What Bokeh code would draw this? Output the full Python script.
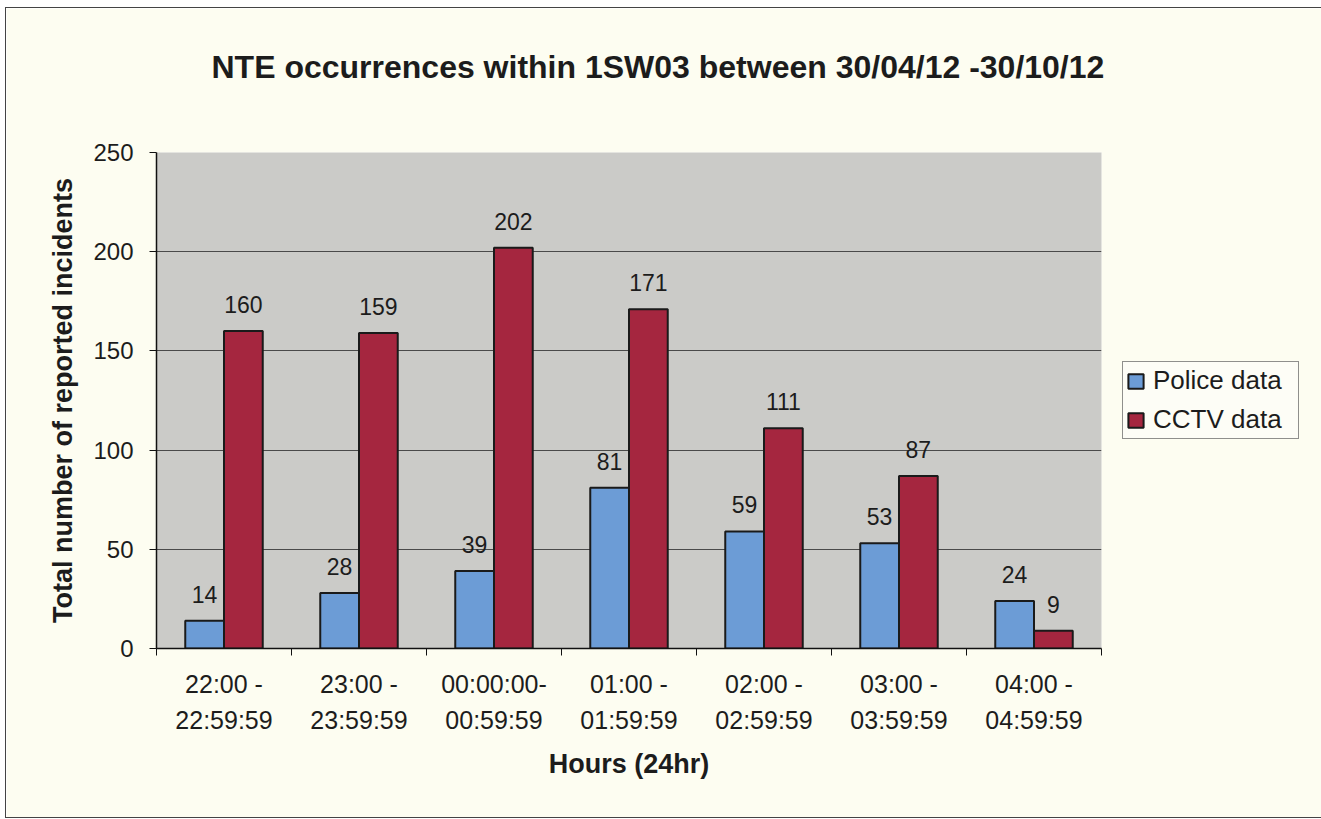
from bokeh.plotting import figure
from bokeh.models import (ColumnDataSource, Range1d, FixedTicker, LabelSet,
                          Legend, LegendItem)
from bokeh.core.properties import value
from bokeh.embed import file_html
from bokeh.resources import INLINE

# ---- data ----
hours = ["22:00 -\n22:59:59", "23:00 -\n23:59:59", "00:00:00-\n00:59:59",
         "01:00 -\n01:59:59", "02:00 -\n02:59:59", "03:00 -\n03:59:59",
         "04:00 -\n04:59:59"]
police = [14, 28, 39, 81, 59, 53, 24]
cctv = [160, 159, 202, 171, 111, 87, 9]
series_names = ["Police data", "CCTV data"]
y_ticks = [0, 50, 100, 150, 200, 250]
title_text = "NTE occurrences within 1SW03 between 30/04/12 -30/10/12"

FONT = "Liberation Sans"
BLUE = "#6C9CD6"
RED = "#A5263F"
BAR_W = 0.287

n = len(hours)
centers = [i + 0.5 for i in range(n)]
bounds = [float(i) for i in range(n + 1)]

src = ColumnDataSource(dict(
    xp=[c - BAR_W / 2 for c in centers],
    xc=[c + BAR_W / 2 for c in centers],
    police=police, cctv=cctv,
    police_lbl=[str(v) for v in police],
    cctv_lbl=[str(v) for v in cctv],
))

p = figure(frame_width=945, frame_height=496, output_backend="svg",
           toolbar_location=None,
           x_range=Range1d(0, n), y_range=Range1d(0, 250),
           min_border_left=150, min_border_right=214,
           min_border_top=144, min_border_bottom=169)
p.styles = {"border": "1px solid #444", "margin": "7px 0 0 5px"}

p.border_fill_color = "#FDFDF1"
p.background_fill_color = "#CBCBC8"
p.outline_line_color = None

# title (a blank second line lifts it well above the plot area)
p.title.text = title_text + "\n\u00a0"
p.title.text_font = FONT
p.title.text_font_size = "32px"
p.title.text_font_style = "bold"
p.title.text_color = "#1c1c1c"
p.title.align = "left"
p.title.offset = 55
p.title.standoff = 64

# bars
r_p = p.vbar(x="xp", top="police", width=BAR_W, source=src, fill_color=BLUE,
             line_color="#1a1a1a", line_width=2)
r_c = p.vbar(x="xc", top="cctv", width=BAR_W, source=src, fill_color=RED,
             line_color="#1a1a1a", line_width=2)

for xcol, ycol, tcol in [("xp", "police", "police_lbl"), ("xc", "cctv", "cctv_lbl")]:
    p.add_layout(LabelSet(x=xcol, y=ycol, text=tcol, source=src, y_offset=18,
                          text_align="center", text_baseline="alphabetic",
                          text_font=value(FONT), text_font_size="23px",
                          text_color="#1c1c1c"))

# grid
p.xgrid.grid_line_color = None
p.ygrid.ticker = FixedTicker(ticks=y_ticks)
p.ygrid.grid_line_color = "#4a4a4a"
p.ygrid.grid_line_width = 1

# y axis
p.yaxis.ticker = FixedTicker(ticks=y_ticks)
p.yaxis.axis_label = "Total number of reported incidents"
p.yaxis.axis_label_text_font = FONT
p.yaxis.axis_label_text_font_size = "27px"
p.yaxis.axis_label_text_font_style = "bold"
p.yaxis.axis_label_text_color = "#1c1c1c"
p.yaxis.axis_label_standoff = 12
p.yaxis.major_label_text_font = FONT
p.yaxis.major_label_text_font_size = "24px"
p.yaxis.major_label_text_color = "#1c1c1c"
p.yaxis.major_label_standoff = 16
p.yaxis.major_tick_out = 7
p.yaxis.major_tick_in = 0
p.yaxis.minor_tick_line_color = None
p.yaxis.axis_line_color = "#111111"
p.yaxis.axis_line_width = 1.5
p.yaxis.major_tick_line_color = "#111111"

# x axis
p.xaxis.ticker = FixedTicker(ticks=centers, minor_ticks=bounds)
p.xaxis.major_label_overrides = {c: h for c, h in zip(centers, hours)}
p.xaxis.axis_label = "Hours (24hr)"
p.xaxis.axis_label_text_font = FONT
p.xaxis.axis_label_text_font_size = "27px"
p.xaxis.axis_label_text_font_style = "bold"
p.xaxis.axis_label_text_color = "#1c1c1c"
p.xaxis.axis_label_standoff = 12
p.xaxis.major_label_text_font = FONT
p.xaxis.major_label_text_font_size = "25px"
p.xaxis.major_label_text_color = "#1c1c1c"
p.xaxis.major_label_text_line_height = 1.3
p.xaxis.major_label_standoff = 14
p.xaxis.major_tick_line_color = None
p.xaxis.minor_tick_out = 7
p.xaxis.minor_tick_in = 0
p.xaxis.minor_tick_line_color = "#111111"
p.xaxis.axis_line_color = "#111111"
p.xaxis.axis_line_width = 1.5

# legend
legend = Legend(items=[LegendItem(label=series_names[0], renderers=[r_p]),
                       LegendItem(label=series_names[1], renderers=[r_c])],
                location="center_left", margin=21, padding=3, spacing=8,
                glyph_width=19, glyph_height=18, label_standoff=8,
                label_height=31, label_width=142,
                label_text_font=FONT, label_text_font_size="26px",
                label_text_color="#1c1c1c",
                background_fill_color="#FDFDF6", background_fill_alpha=1,
                border_line_color="#222222", border_line_width=1)
p.add_layout(legend, "right")

open("out.html", "w").write(file_html(p, INLINE))
